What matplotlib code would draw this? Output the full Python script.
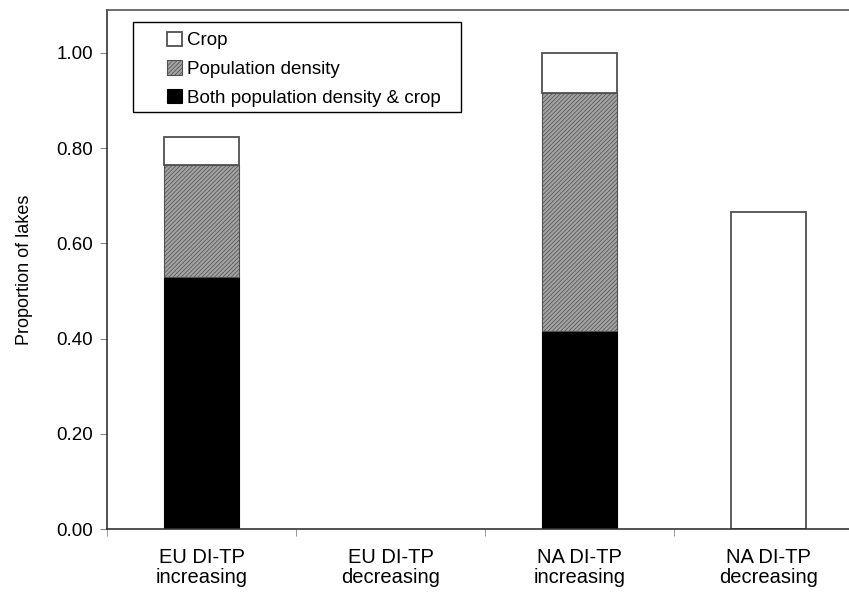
import numpy as np
import matplotlib
matplotlib.use("Agg")
import matplotlib.pyplot as plt
from matplotlib.patches import Rectangle

plt.rcParams['font.family'] = ['Liberation Sans', 'DejaVu Sans']
plt.rcParams['hatch.linewidth'] = 0.5
plt.rcParams['hatch.color'] = '#555555'

categories = ["EU DI-TP\nincreasing", "EU DI-TP\ndecreasing",
              "NA DI-TP\nincreasing", "NA DI-TP\ndecreasing"]
both = [9/17, 0.0, 5/12, 0.0]
pop_density = [4/17, 0.0, 6/12, 0.0]
crop = [1/17, 0.0, 1/12, 2/3]
yticks = [0.0, 0.2, 0.4, 0.6, 0.8, 1.0]

fig = plt.figure(figsize=(8.49, 5.96), dpi=100)
ax = fig.add_axes([107/849, 67/596, 756/849, 519/596])

x = np.arange(len(categories))
w = 0.4
both = np.array(both)
pop_density = np.array(pop_density)
crop = np.array(crop)

b1 = ax.bar(x, both, w, color='black', edgecolor='black', linewidth=0.8,
            label='Both population density & crop')
b2 = ax.bar(x, pop_density, w, bottom=both, color='#a2a2a2', edgecolor='#505050',
            hatch='////////', linewidth=0.8, label='Population density')
b3 = ax.bar(x, crop, w, bottom=both + pop_density, color='white', edgecolor='#505050',
            linewidth=1.3, label='Crop')
# hide empty bars
for bars in (b1, b2, b3):
    for r in bars:
        if r.get_height() == 0:
            r.set_visible(False)

ax.set_xlim(-0.5, 3.5)
ax.set_ylim(0, 1.09)
ax.set_yticks(yticks)
ax.set_yticklabels([f"{v:.2f}" for v in yticks], fontsize=13.5)
ax.set_xticks(x)
ax.set_xticklabels(categories, fontsize=14.5, linespacing=1.05)
ax.set_xticks(np.arange(-0.5, 4.0, 1.0), minor=True)
ax.tick_params(axis='x', which='major', length=0, pad=14)
ax.tick_params(axis='x', which='minor', length=5, color='#888888')
ax.tick_params(axis='y', length=5, color='#888888', pad=5)
ax.set_ylabel("Proportion of lakes", fontsize=13, labelpad=17)

for s in ax.spines.values():
    s.set_color('#333333')
    s.set_linewidth(1.2)
ax.spines['top'].set_color('#555555')

# legend box
ax.add_patch(Rectangle((0.0344, 0.8035), 0.434, 0.1734, transform=ax.transAxes,
                       facecolor='white', edgecolor='black', linewidth=1.0,
                       zorder=4))
handles = [b3, b2, b1]
leg = ax.legend(handles, [h.get_label() for h in handles], loc='upper left',
                bbox_to_anchor=(0.079, 0.958), fontsize=13.5, frameon=False,
                handlelength=0.8, handleheight=0.8, handletextpad=0.3,
                labelspacing=0.58, borderpad=0, borderaxespad=0)
leg.set_zorder(5)

fig.savefig("out.png", dpi=100)
